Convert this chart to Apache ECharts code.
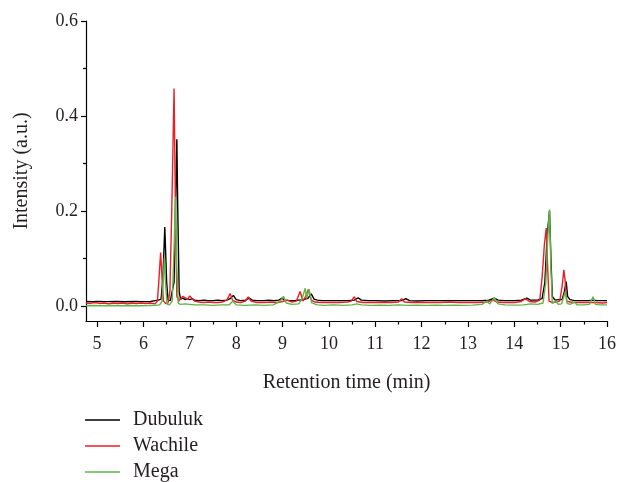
<!DOCTYPE html>
<html>
<head>
<meta charset="utf-8">
<script src="https://cdn.jsdelivr.net/npm/echarts@6/dist/echarts.min.js"></script>
<style>html,body{margin:0;padding:0;background:#fff}#c{width:620px;height:482px}</style>
</head>
<body>
<div id="c"></div>
<script>
var seriesNames = ['Dubuluk', 'Wachile', 'Mega'];
var xTickLabels = [5, 6, 7, 8, 9, 10, 11, 12, 13, 14, 15, 16];
var xMinorTicks = [5.5, 6.5, 7.5, 8.5, 9.5, 10.5, 11.5, 12.5, 13.5, 14.5, 15.5];
var yTickLabels = [0, 0.2, 0.4, 0.6];
var yMinorTicks = [0.1, 0.3, 0.5];

var dubuluk = [[4.76,0.009],[4.9,0.0085],[5.0,0.009],[5.2,0.0088],[5.4,0.009],[5.6,0.0087],[5.8,0.009],[6.0,0.0088],[6.15,0.009],[6.25,0.011],[6.32,0.012],[6.38,0.014],[6.42,0.06],[6.46,0.166],[6.5,0.05],[6.53,0.012],[6.58,0.011],[6.62,0.013],[6.66,0.05],[6.7,0.25],[6.72,0.351],[6.74,0.2],[6.77,0.03],[6.8,0.014],[6.85,0.016],[6.9,0.013],[6.95,0.015],[7.0,0.013],[7.05,0.015],[7.1,0.012],[7.2,0.011],[7.3,0.012],[7.4,0.011],[7.5,0.011],[7.6,0.012],[7.7,0.011],[7.8,0.012],[7.87,0.015],[7.94,0.022],[8.0,0.013],[8.1,0.011],[8.2,0.012],[8.28,0.016],[8.35,0.012],[8.45,0.011],[8.6,0.011],[8.7,0.012],[8.8,0.011],[8.92,0.012],[8.98,0.016],[9.05,0.012],[9.15,0.011],[9.25,0.011],[9.35,0.012],[9.45,0.013],[9.55,0.016],[9.62,0.025],[9.68,0.014],[9.75,0.012],[9.85,0.011],[10.0,0.011],[10.2,0.011],[10.4,0.011],[10.55,0.012],[10.63,0.017],[10.7,0.012],[10.85,0.011],[11.0,0.011],[11.2,0.01],[11.4,0.011],[11.58,0.011],[11.66,0.015],[11.74,0.011],[11.9,0.01],[12.1,0.011],[12.3,0.011],[12.5,0.011],[12.7,0.011],[12.9,0.011],[13.1,0.011],[13.3,0.011],[13.45,0.012],[13.57,0.016],[13.65,0.012],[13.8,0.011],[14.0,0.011],[14.15,0.012],[14.27,0.016],[14.35,0.012],[14.5,0.012],[14.6,0.015],[14.66,0.05],[14.71,0.15],[14.76,0.2],[14.79,0.1],[14.82,0.02],[14.88,0.012],[14.95,0.013],[15.03,0.013],[15.08,0.03],[15.12,0.051],[15.15,0.02],[15.2,0.013],[15.3,0.011],[15.45,0.011],[15.6,0.011],[15.7,0.012],[15.8,0.011],[16.0,0.011]];

var wachile = [[4.76,0.006],[4.85,0.005],[4.95,0.007],[5.05,0.005],[5.15,0.006],[5.25,0.004],[5.35,0.006],[5.45,0.005],[5.55,0.006],[5.65,0.004],[5.75,0.006],[5.85,0.005],[5.95,0.006],[6.05,0.005],[6.15,0.006],[6.25,0.004],[6.3,0.01],[6.33,0.05],[6.37,0.112],[6.4,0.06],[6.43,0.01],[6.48,0.005],[6.53,0.006],[6.57,0.03],[6.61,0.2],[6.66,0.458],[6.69,0.2],[6.72,0.02],[6.76,0.01],[6.8,0.013],[6.85,0.02],[6.9,0.017],[6.95,0.014],[7.0,0.021],[7.05,0.015],[7.1,0.01],[7.2,0.008],[7.3,0.007],[7.4,0.008],[7.5,0.007],[7.6,0.007],[7.7,0.008],[7.8,0.012],[7.87,0.026],[7.92,0.012],[8.0,0.008],[8.1,0.007],[8.2,0.01],[8.26,0.019],[8.32,0.01],[8.45,0.007],[8.6,0.007],[8.75,0.008],[8.9,0.007],[9.0,0.009],[9.1,0.012],[9.2,0.008],[9.3,0.01],[9.38,0.03],[9.44,0.01],[9.5,0.02],[9.56,0.035],[9.62,0.012],[9.7,0.008],[9.85,0.007],[10.0,0.007],[10.2,0.007],[10.4,0.008],[10.48,0.01],[10.55,0.019],[10.6,0.009],[10.75,0.007],[10.95,0.007],[11.15,0.007],[11.35,0.007],[11.5,0.008],[11.57,0.015],[11.63,0.008],[11.8,0.007],[12.0,0.007],[12.2,0.007],[12.4,0.007],[12.6,0.008],[12.8,0.007],[13.0,0.007],[13.2,0.007],[13.4,0.008],[13.55,0.012],[13.62,0.008],[13.8,0.007],[14.0,0.007],[14.15,0.009],[14.24,0.015],[14.32,0.009],[14.45,0.008],[14.55,0.012],[14.6,0.06],[14.65,0.13],[14.69,0.164],[14.72,0.08],[14.75,0.01],[14.82,0.007],[14.9,0.008],[14.98,0.01],[15.03,0.04],[15.07,0.076],[15.1,0.05],[15.13,0.01],[15.2,0.008],[15.3,0.007],[15.45,0.007],[15.6,0.007],[15.75,0.007],[15.9,0.006],[16.0,0.007]];

var mega = [[4.76,0.0],[4.9,0.0005],[5.1,0.0],[5.3,0.0005],[5.5,0.0],[5.7,0.0005],[5.9,0.0],[6.1,0.0005],[6.25,0.001],[6.35,0.002],[6.4,0.01],[6.43,0.06],[6.45,0.101],[6.48,0.04],[6.51,0.003],[6.56,0.002],[6.62,0.01],[6.66,0.12],[6.69,0.229],[6.72,0.08],[6.75,0.005],[6.8,0.003],[6.9,0.004],[7.0,0.003],[7.1,0.002],[7.3,0.002],[7.5,0.001],[7.7,0.002],[7.85,0.002],[7.93,0.01],[8.0,0.002],[8.2,0.001],[8.4,0.002],[8.6,0.001],[8.8,0.002],[8.95,0.01],[9.02,0.02],[9.08,0.006],[9.2,0.003],[9.35,0.004],[9.42,0.015],[9.49,0.037],[9.52,0.015],[9.57,0.035],[9.63,0.006],[9.75,0.002],[9.9,0.001],[10.1,0.002],[10.3,0.001],[10.5,0.002],[10.6,0.004],[10.7,0.002],[10.9,0.001],[11.1,0.0015],[11.3,0.001],[11.5,0.002],[11.7,0.001],[11.9,0.0015],[12.1,0.001],[12.3,0.0015],[12.5,0.001],[12.7,0.0015],[12.9,0.001],[13.1,0.0015],[13.3,0.003],[13.41,0.01],[13.47,0.004],[13.57,0.017],[13.65,0.004],[13.8,0.002],[14.0,0.0015],[14.2,0.002],[14.35,0.004],[14.5,0.003],[14.62,0.006],[14.68,0.05],[14.73,0.16],[14.76,0.203],[14.79,0.08],[14.82,0.005],[14.86,0.003],[14.9,0.01],[14.95,0.003],[15.02,0.004],[15.07,0.02],[15.1,0.03],[15.14,0.005],[15.2,0.003],[15.3,0.008],[15.35,0.002],[15.5,0.002],[15.62,0.003],[15.7,0.019],[15.75,0.003],[15.85,0.002],[16.0,0.002]];

var FONT = 'Liberation Serif';
var TXT = '#231f20';
var colors = ['#000000', '#ee1c24', '#5db646'];
var X_MIN = 4.76, X_MAX = 16, Y_MIN = -0.032, Y_MAX = 0.6;

function legendFor(i, top) {
  return {
    data: [seriesNames[i]],
    orient: 'vertical',
    left: 85,
    top: top,
    icon: 'rect',
    itemWidth: 35,
    itemHeight: 1.4,
    padding: 0,
    textStyle: {fontFamily: FONT, fontSize: 20, color: TXT, padding: [0, 0, 0, 8]}
  };
}

var chart = echarts.init(document.getElementById('c'), null, {renderer: 'canvas'});
chart.setOption({
  animation: false,
  backgroundColor: '#ffffff',
  color: colors,
  grid: {left: 86, right: 13, top: 21, bottom: 161, containLabel: false, outerBoundsMode: 'none'},
  legend: [legendFor(0, 410), legendFor(1, 436), legendFor(2, 462)],
  xAxis: [{
    type: 'value', min: X_MIN, max: X_MAX,
    name: 'Retention time (min)', nameLocation: 'middle', nameGap: 52,
    nameTextStyle: {fontFamily: FONT, fontSize: 20, color: TXT},
    axisLine: {show: true, onZero: false, lineStyle: {color: '#000', width: 1.2}},
    axisTick: {show: true, length: 6, customValues: xTickLabels, lineStyle: {color: '#000', width: 1.2}},
    axisLabel: {customValues: xTickLabels, fontFamily: FONT, fontSize: 18, color: TXT, margin: 14},
    splitLine: {show: false}
  }, {
    type: 'value', min: X_MIN, max: X_MAX, position: 'bottom',
    axisLine: {show: false, onZero: false},
    axisTick: {show: true, length: 3.5, customValues: xMinorTicks, lineStyle: {color: '#000', width: 1.2}},
    axisLabel: {show: false},
    splitLine: {show: false}
  }],
  yAxis: [{
    type: 'value', min: Y_MIN, max: Y_MAX,
    name: 'Intensity (a.u.)', nameLocation: 'middle', nameGap: 54, nameRotate: 90,
    nameTextStyle: {fontFamily: FONT, fontSize: 20, color: TXT},
    axisLine: {show: true, onZero: false, lineStyle: {color: '#000', width: 1.2}},
    axisTick: {show: true, length: 5, customValues: yTickLabels, lineStyle: {color: '#000', width: 1.2}},
    axisLabel: {customValues: yTickLabels, fontFamily: FONT, fontSize: 18, color: TXT, margin: 8,
      formatter: function (v) { return v.toFixed(1); }},
    splitLine: {show: false}
  }, {
    type: 'value', min: Y_MIN, max: Y_MAX, position: 'left',
    axisLine: {show: false, onZero: false},
    axisTick: {show: true, length: 3, customValues: yMinorTicks, lineStyle: {color: '#000', width: 1.2}},
    axisLabel: {show: false},
    splitLine: {show: false}
  }],
  series: [
    {name: seriesNames[0], type: 'line', data: dubuluk, showSymbol: false, symbol: 'none', lineStyle: {width: 1.4, color: colors[0]}, z: 2},
    {name: seriesNames[1], type: 'line', data: wachile, showSymbol: false, symbol: 'none', lineStyle: {width: 1.4, color: colors[1]}, z: 3},
    {name: seriesNames[2], type: 'line', data: mega, showSymbol: false, symbol: 'none', lineStyle: {width: 1.4, color: colors[2]}, z: 4}
  ]
});
</script>
</body>
</html>
